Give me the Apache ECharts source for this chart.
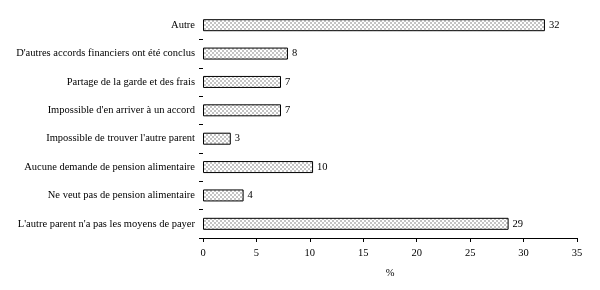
<!DOCTYPE html>
<html><head><meta charset="utf-8">
<script src="https://cdn.jsdelivr.net/npm/echarts@6/dist/echarts.min.js"></script>
<style>html,body{margin:0;padding:0;background:#fff}#c{width:600px;height:290px}</style>
</head><body><div id="c"></div>
<script>
const categories = ["Autre", "D'autres accords financiers ont été conclus", "Partage de la garde et des frais", "Impossible d'en arriver à un accord", "Impossible de trouver l'autre parent", "Aucune demande de pension alimentaire", "Ne veut pas de pension alimentaire", "L'autre parent n'a pas les moyens de payer"];
const values = [32, 7.95, 7.3, 7.3, 2.6, 10.3, 3.8, 28.6];
const labels = ["32", "8", "7", "7", "3", "10", "4", "29"];
const xTicks = [0, 5, 10, 15, 20, 25, 30, 35];

const pc = document.createElement('canvas');
pc.width = 4; pc.height = 4;
const g = pc.getContext('2d');
g.fillStyle = '#fff'; g.fillRect(0,0,4,4);
g.fillStyle = '#c4c4c4';
g.fillRect(0,0,2,2); g.fillRect(2,2,2,2);

const font = 'Liberation Serif';
const chart = echarts.init(document.getElementById('c'), null, {renderer:'canvas'});
chart.setOption({
  animation:false,
  grid:{left:203, right:23, top:11, bottom:52},
  xAxis:{type:'value', min:xTicks[0], max:xTicks[xTicks.length-1], interval:5,
    name:'%', nameLocation:'middle', nameGap:30,
    nameTextStyle:{fontFamily:font, fontSize:10.5, color:'#000'},
    axisLine:{show:true, lineStyle:{color:'#000', width:1}},
    axisTick:{show:true, length:4, lineStyle:{color:'#000'}},
    axisLabel:{fontFamily:font, fontSize:10.5, color:'#000', margin:10},
    splitLine:{show:false}},
  yAxis:{type:'category', data:categories, inverse:true,
    axisLine:{show:false},
    axisTick:{show:true, length:4, interval:(i)=>i>0, lineStyle:{color:'#000'}},
    axisLabel:{fontFamily:font, fontSize:10.5, color:'#000', margin:8}},
  series:[{type:'bar', data:values, barWidth:12,
    itemStyle:{color:{image:pc, repeat:'repeat'}, borderColor:'#000', borderWidth:1},
    label:{show:true, position:'right', distance:4, fontFamily:font, fontSize:10.5, color:'#000',
      formatter:p=>labels[p.dataIndex]}}]
});
</script></body></html>
